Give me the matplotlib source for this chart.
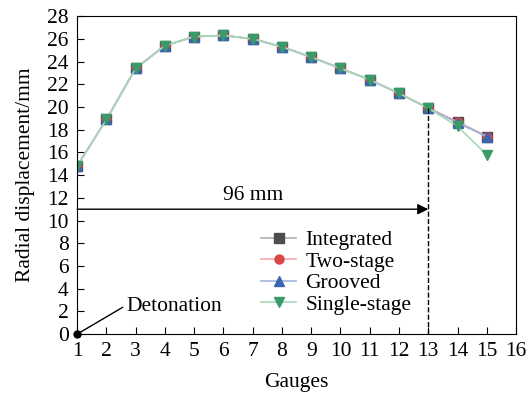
import numpy as np
import matplotlib.pyplot as plt

plt.rcParams['font.family'] = ['Liberation Serif', 'DejaVu Serif']
plt.rcParams['mathtext.fontset'] = 'stix'

# 测点编号与各结构的径向位移
gauges = np.arange(1, 16)
integrated = [14.8, 18.9, 23.4, 25.4, 26.2, 26.3, 26.0, 25.3, 24.4, 23.4, 22.4, 21.2, 19.9, 18.7, 17.4]
two_stage = [14.8, 18.9, 23.4, 25.4, 26.2, 26.3, 26.0, 25.3, 24.4, 23.4, 22.4, 21.2, 19.9, 18.7, 17.4]
grooved = [14.8, 18.9, 23.4, 25.4, 26.2, 26.3, 26.0, 25.3, 24.4, 23.4, 22.4, 21.2, 19.9, 18.6, 17.4]
single_stage = [14.8, 18.9, 23.4, 25.4, 26.2, 26.3, 26.0, 25.3, 24.4, 23.4, 22.4, 21.2, 19.9, 18.3, 15.8]

names = ['Integrated', 'Two-stage', 'Grooved', 'Single-stage']
markers = ['s', 'o', '^', 'v']
line_colors = ['#b0b0b0', '#f2a8a8', '#9fb4de', '#a8d8b8']
marker_colors = ['#4d4d4d', '#d94848', '#3a68b0', '#3a9a68']

fs = 15.5

fig = plt.figure(figsize=(5.32, 3.94), dpi=100)
ax = fig.add_axes([0.145, 0.152, 0.825, 0.807])

for ys, name, m, lc, mc in zip([integrated, two_stage, grooved, single_stage],
                               names, markers, line_colors, marker_colors):
    ax.plot(gauges, ys, color=lc, lw=1.2, marker=m, markersize=6.5,
            markerfacecolor=mc, markeredgecolor=mc, label=name)

# 起爆点及引线
ax.plot([1], [0], 'o', color='black', markersize=5, clip_on=False, zorder=5)
ax.plot([1, 2.55], [0, 2.35], color='black', lw=1, clip_on=False)
ax.text(2.7, 2.45, 'Detonation', fontsize=fs, va='center', ha='left')

# 96 mm 距离标注
ax.annotate('', xy=(13, 11), xytext=(1, 11),
            arrowprops=dict(arrowstyle='-|>', color='black', lw=1,
                            mutation_scale=16, shrinkA=0, shrinkB=0))
ax.text(7, 11.35, '96 mm', fontsize=fs, ha='center', va='bottom')
ax.plot([13, 13], [0, 19.9], ls='--', color='black', lw=1)

ax.set_xlim(1, 16)
ax.set_ylim(0, 28)
ax.set_xticks(range(1, 17))
ax.set_yticks(range(0, 29, 2))
ax.tick_params(direction='in', labelsize=fs, length=5, top=False, right=False)
ax.tick_params(axis='x', pad=6)
ax.tick_params(axis='y', pad=6)
ax.set_xlabel('Gauges', fontsize=fs, labelpad=8)
ax.set_ylabel('Radial displacement/mm', fontsize=fs, labelpad=9)

ax.legend(loc='upper left', bbox_to_anchor=(0.42, 0.327), frameon=False,
          fontsize=fs, handlelength=1.6, handletextpad=0.45,
          labelspacing=0.07, borderpad=0, borderaxespad=0)

fig.savefig('out.png', dpi=100)
